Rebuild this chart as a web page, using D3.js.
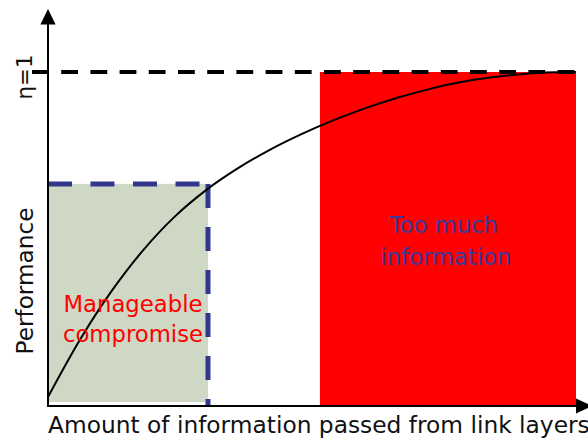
<!DOCTYPE html>
<html>
<head>
<meta charset="utf-8">
<script src="https://cdn.jsdelivr.net/npm/d3@7"></script>
<style>
html,body{margin:0;padding:0;background:#fff;}
svg{display:block;}
text{font-family:"DejaVu Sans",Verdana,sans-serif;}
</style>
</head>
<body>
<svg id="chart" width="588" height="441"></svg>
<script>
// ---- data ----
const curveX = [0, 6, 12, 18, 24, 30, 36, 42, 48, 54, 60, 66, 72, 78, 84, 90, 96, 100];
const curveY = [0.027, 0.197, 0.343, 0.466, 0.567, 0.647, 0.712, 0.767, 0.814, 0.855, 0.891, 0.922, 0.948, 0.969, 0.984, 0.994, 0.999, 1.0];
const etaLevel = [1.0];
const regionNames = ["Manageable compromise", "Too much information"];
const regionX0 = [0, 51.5];
const regionX1 = [30.3, 100];
const regionTop = [0.665, 1.0];
const axisLabels = ["Amount of information passed from link layers", "Performance", "η=1"];

// ---- layout ----
const svg = d3.select("#chart");
const x = d3.scaleLinear().domain([0, 100]).range([48, 576]);
const y = d3.scaleLinear().domain([0, 1]).range([406, 72]);

// red region
svg.append("rect")
  .attr("x", x(regionX0[1])).attr("y", y(regionTop[1]))
  .attr("width", x(regionX1[1]) - x(regionX0[1]))
  .attr("height", y(0) - y(regionTop[1]))
  .attr("fill", "#ff0000");

// green region
svg.append("rect")
  .attr("x", x(regionX0[0])).attr("y", y(regionTop[0]))
  .attr("width", x(regionX1[0]) - x(regionX0[0]))
  .attr("height", y(0) - 4 - y(regionTop[0]))
  .attr("fill", "#cfd8c5");

// navy dashed border
const navy = "#30378c";
svg.append("line")
  .attr("x1", x(regionX0[0])).attr("x2", x(regionX1[0]))
  .attr("y1", y(regionTop[0])).attr("y2", y(regionTop[0]))
  .attr("stroke", navy).attr("stroke-width", 5).attr("stroke-dasharray", "24,18.5");
svg.append("line")
  .attr("x1", x(regionX1[0])).attr("x2", x(regionX1[0]))
  .attr("y1", y(regionTop[0])).attr("y2", y(0))
  .attr("stroke", navy).attr("stroke-width", 5).attr("stroke-dasharray", "24,19");

// curve
const pts = curveX.map((v, i) => [v, curveY[i]]);
svg.append("path")
  .datum(pts)
  .attr("d", d3.line().x(d => x(d[0])).y(d => y(d[1])).curve(d3.curveCatmullRom.alpha(0.5)))
  .attr("fill", "none").attr("stroke", "#000").attr("stroke-width", 2);

// eta=1 dashed line
svg.append("line")
  .attr("x1", x(0) - 16).attr("x2", x(100))
  .attr("y1", y(etaLevel[0])).attr("y2", y(etaLevel[0]))
  .attr("stroke", "#000").attr("stroke-width", 4.2).attr("stroke-dasharray", "16.8,12.4");

// axes
svg.append("line").attr("x1", x(0)).attr("x2", x(100)).attr("y1", y(0)).attr("y2", y(0))
  .attr("stroke", "#000").attr("stroke-width", 2);
svg.append("line").attr("x1", x(0)).attr("x2", x(0)).attr("y1", y(0) + 1).attr("y2", 22)
  .attr("stroke", "#000").attr("stroke-width", 2);
svg.append("path")
  .attr("d", `M${x(0)},9 L${x(0) - 7.6},24.5 L${x(0) + 7.6},24.5 Z`).attr("fill", "#000");
svg.append("path")
  .attr("d", `M${x(100) + 16},${y(0)} L${x(100)},${y(0) - 7.6} L${x(100)},${y(0) + 7.6} Z`).attr("fill", "#000");

// text helper: fit font size to a target width
function fit(t, target, base) {
  t.attr("font-size", base);
  const w = t.node().getComputedTextLength();
  t.attr("font-size", (base * target / w).toFixed(2));
}

const xl = svg.append("text").attr("x", 48).attr("y", 433).attr("fill", "#111").text(axisLabels[0]);
fit(xl, 542, 23);

const yl = svg.append("text").attr("transform", "translate(33,281) rotate(-90)")
  .attr("text-anchor", "middle").attr("fill", "#111").text(axisLabels[1]);
fit(yl, 147, 23);

const el = svg.append("text").attr("transform", "translate(32,77) rotate(-90)")
  .attr("text-anchor", "middle").attr("fill", "#111").text(axisLabels[2]);
fit(el, 45, 23);

const g1 = regionNames[0].split(" ");
const gx = (x(regionX0[0]) + x(regionX1[0])) / 2 + 5;
const m1 = svg.append("text").attr("x", gx).attr("y", 312).attr("text-anchor", "middle").attr("fill", "#ff0000").text(g1[0]);
fit(m1, 139, 23);
const m2 = svg.append("text").attr("x", gx).attr("y", 342).attr("text-anchor", "middle").attr("fill", "#ff0000").text(g1[1]);
m2.attr("font-size", m1.attr("font-size"));

const g2 = ["Too much", "information"];
const rx = 446;
const t2 = svg.append("text").attr("x", rx).attr("y", 265).attr("text-anchor", "middle").attr("fill", "#3a3a9e").text(g2[1]);
fit(t2, 131, 23);
svg.append("text").attr("x", rx - 2).attr("y", 233).attr("text-anchor", "middle").attr("fill", "#3a3a9e")
  .attr("font-size", t2.attr("font-size")).text(g2[0]);
</script>
</body>
</html>
